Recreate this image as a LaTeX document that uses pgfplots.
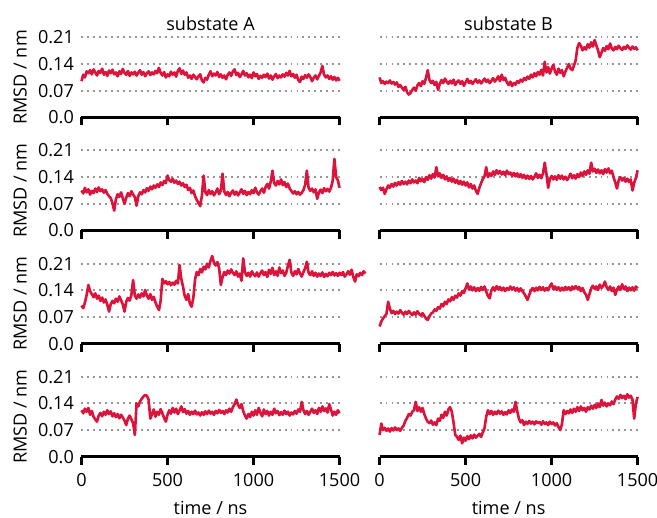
\documentclass[border=0pt]{standalone}
\usepackage{fontspec}
\setmainfont{Open Sans}
\usepackage{pgfplots}
\pgfplotsset{compat=1.18}
\definecolor{rmsd}{RGB}{220,20,60}
\definecolor{gridgray}{RGB}{150,150,150}

\pgfplotsset{
  panel/.style={
    scale only axis, width=185.8pt, height=57.6pt,
    xmin=0, xmax=1500, ymin=0, ymax=0.21,
    clip=false,
    axis x line*=bottom, axis y line*=left,
    axis line style={-},
    x axis line style={line width=1.8pt, black},
    y axis line style={draw=none},
    xtick={0,500,1000,1500}, ytick={0,0.07,0.14,0.21},
    xticklabels={}, yticklabels={},
    tick align=outside, major tick length=5.8pt,
    xtick style={line width=1.8pt, black},
    ytick style={draw=none},
    ymajorgrids,
    grid style={gridgray, line width=1.4pt, dash pattern=on 1.4pt off 2.9pt},
    font=\fontsize{13}{15}\selectfont,
    every axis y label/.style={at={(axis description cs:-0.238,0.5)}, rotate=90, anchor=center},
    every axis x label/.style={at={(axis description cs:0.5,0)}, anchor=base, yshift=-41.3pt},
    every axis title/.style={at={(axis description cs:0.5,1)}, anchor=base, yshift=5.3pt},
    yticklabel style={inner sep=0pt, anchor=east, xshift=0.5pt},
    xticklabel style={inner sep=0pt, anchor=base, yshift=-15.8pt},
  },
  leftcol/.style={yticklabels={0.0,0.07,0.14,0.21}, ylabel={RMSD / nm}},
  bottomrow/.style={xticklabels={0,500,1000,1500}, xlabel={time / ns}},
  trace/.style={rmsd, line width=1.9pt, line join=round, no markers},
}

\begin{document}
\begin{tikzpicture}
\useasboundingbox (-58.68pt,-43.42pt) rectangle (414.36pt,328.82pt);

% row 1, substate A
\begin{axis}[panel, leftcol, title={substate A}, at={(0pt,244.3pt)}, anchor=south west]
\addplot[trace] coordinates {
(0,0.095)(10,0.112)(20,0.105)(30,0.121)(40,0.116)(50,0.124)(60,0.113)(70,0.126)(80,0.118)(90,0.110)
(100,0.122)(110,0.117)(120,0.128)(130,0.112)(140,0.119)(150,0.109)(160,0.123)(170,0.116)(180,0.125)(190,0.113)
(200,0.118)(210,0.108)(220,0.121)(230,0.114)(240,0.127)(250,0.117)(260,0.112)(270,0.122)(280,0.109)(290,0.118)
(300,0.113)(310,0.120)(320,0.110)(330,0.117)(340,0.124)(350,0.112)(360,0.119)(370,0.108)(380,0.116)(390,0.121)
(400,0.111)(410,0.118)(420,0.113)(430,0.122)(440,0.116)(450,0.130)(460,0.117)(470,0.110)(480,0.119)(490,0.105)
(500,0.113)(510,0.108)(520,0.120)(530,0.112)(540,0.118)(550,0.107)(560,0.122)(570,0.129)(580,0.114)(590,0.123)
(600,0.112)(610,0.118)(620,0.104)(630,0.110)(640,0.101)(650,0.112)(660,0.106)(670,0.100)(680,0.108)(690,0.113)
(700,0.097)(710,0.092)(720,0.104)(730,0.099)(740,0.112)(750,0.121)(760,0.108)(770,0.115)(780,0.110)(790,0.119)
(800,0.106)(810,0.113)(820,0.104)(830,0.110)(840,0.100)(850,0.112)(860,0.118)(870,0.109)(880,0.121)(890,0.126)
(900,0.111)(910,0.117)(920,0.106)(930,0.113)(940,0.122)(950,0.110)(960,0.116)(970,0.105)(980,0.112)(990,0.103)
(1000,0.118)(1010,0.108)(1020,0.114)(1030,0.101)(1040,0.109)(1050,0.104)(1060,0.112)(1070,0.106)(1080,0.115)(1090,0.102)
(1100,0.110)(1110,0.099)(1120,0.108)(1130,0.114)(1140,0.103)(1150,0.110)(1160,0.105)(1170,0.113)(1180,0.107)(1190,0.117)
(1200,0.110)(1210,0.122)(1220,0.108)(1230,0.114)(1240,0.104)(1250,0.112)(1260,0.098)(1270,0.093)(1280,0.107)(1290,0.101)
(1300,0.111)(1310,0.104)(1320,0.113)(1330,0.106)(1340,0.095)(1350,0.104)(1360,0.110)(1370,0.100)(1380,0.109)(1390,0.118)
(1400,0.135)(1410,0.112)(1420,0.105)(1430,0.110)(1440,0.101)(1450,0.108)(1460,0.099)(1470,0.106)(1480,0.097)(1490,0.104)
(1500,0.096)};
\end{axis}

% row 1, substate B
\begin{axis}[panel, title={substate B}, at={(214.6pt,244.3pt)}, anchor=south west]
\addplot[trace] coordinates {
(0,0.105)(10,0.090)(20,0.095)(30,0.088)(40,0.094)(50,0.090)(60,0.097)(70,0.089)(80,0.093)(90,0.086)
(100,0.092)(110,0.080)(120,0.085)(130,0.078)(140,0.072)(150,0.080)(160,0.066)(170,0.060)(180,0.064)(190,0.072)
(200,0.078)(210,0.070)(220,0.084)(230,0.090)(240,0.082)(250,0.095)(260,0.088)(270,0.104)(280,0.124)(290,0.098)
(300,0.090)(310,0.096)(320,0.085)(330,0.093)(340,0.072)(350,0.088)(360,0.098)(370,0.090)(380,0.102)(390,0.094)
(400,0.088)(410,0.096)(420,0.089)(430,0.099)(440,0.085)(450,0.093)(460,0.097)(470,0.088)(480,0.095)(490,0.083)
(500,0.092)(510,0.101)(520,0.090)(530,0.096)(540,0.088)(550,0.094)(560,0.100)(570,0.091)(580,0.097)(590,0.089)
(600,0.095)(610,0.102)(620,0.093)(630,0.099)(640,0.090)(650,0.096)(660,0.103)(670,0.094)(680,0.100)(690,0.108)
(700,0.095)(710,0.112)(720,0.098)(730,0.104)(740,0.092)(750,0.085)(760,0.094)(770,0.082)(780,0.090)(790,0.086)
(800,0.095)(810,0.091)(820,0.099)(830,0.094)(840,0.103)(850,0.098)(860,0.107)(870,0.101)(880,0.112)(890,0.105)
(900,0.116)(910,0.108)(920,0.119)(930,0.112)(940,0.125)(950,0.110)(960,0.146)(970,0.118)(980,0.132)(990,0.115)
(1000,0.128)(1010,0.138)(1020,0.120)(1030,0.112)(1040,0.128)(1050,0.117)(1060,0.124)(1070,0.108)(1080,0.120)(1090,0.130)
(1100,0.140)(1110,0.128)(1120,0.124)(1130,0.136)(1140,0.150)(1150,0.183)(1160,0.195)(1170,0.188)(1180,0.176)(1190,0.184)
(1200,0.178)(1210,0.192)(1220,0.183)(1230,0.197)(1240,0.186)(1250,0.203)(1260,0.189)(1270,0.176)(1280,0.158)(1290,0.170)
(1300,0.182)(1310,0.175)(1320,0.187)(1330,0.179)(1340,0.194)(1350,0.181)(1360,0.176)(1370,0.185)(1380,0.179)(1390,0.188)
(1400,0.182)(1410,0.177)(1420,0.185)(1430,0.180)(1440,0.189)(1450,0.183)(1460,0.178)(1470,0.186)(1480,0.180)(1490,0.184)
(1500,0.176)};
\end{axis}

% row 2, substate A
\begin{axis}[panel, leftcol, at={(0pt,162.9pt)}, anchor=south west]
\addplot[trace] coordinates {
(0,0.105)(10,0.097)(20,0.112)(30,0.100)(40,0.108)(50,0.094)(60,0.104)(70,0.098)(80,0.110)(90,0.101)
(100,0.113)(110,0.103)(120,0.108)(130,0.099)(140,0.106)(150,0.096)(160,0.090)(170,0.085)(180,0.072)(190,0.052)
(200,0.082)(210,0.095)(220,0.088)(230,0.100)(240,0.084)(250,0.070)(260,0.086)(270,0.098)(280,0.090)(290,0.103)
(300,0.094)(310,0.088)(320,0.065)(330,0.090)(340,0.100)(350,0.095)(360,0.106)(370,0.100)(380,0.111)(390,0.104)
(400,0.115)(410,0.108)(420,0.118)(430,0.112)(440,0.121)(450,0.114)(460,0.126)(470,0.119)(480,0.130)(490,0.124)
(500,0.144)(510,0.132)(520,0.128)(530,0.136)(540,0.125)(550,0.131)(560,0.122)(570,0.128)(580,0.118)(590,0.124)
(600,0.114)(610,0.120)(620,0.106)(630,0.112)(640,0.098)(650,0.105)(660,0.090)(670,0.080)(680,0.072)(690,0.064)
(700,0.092)(710,0.144)(720,0.100)(730,0.093)(740,0.106)(750,0.096)(760,0.103)(770,0.092)(780,0.100)(790,0.110)
(800,0.095)(810,0.104)(820,0.149)(830,0.102)(840,0.093)(850,0.101)(860,0.090)(870,0.099)(880,0.105)(890,0.094)
(900,0.102)(910,0.092)(920,0.100)(930,0.108)(940,0.096)(950,0.104)(960,0.093)(970,0.101)(980,0.095)(990,0.106)
(1000,0.098)(1010,0.112)(1020,0.100)(1030,0.094)(1040,0.103)(1050,0.110)(1060,0.099)(1070,0.114)(1080,0.122)(1090,0.110)
(1100,0.128)(1110,0.157)(1120,0.124)(1130,0.118)(1140,0.130)(1150,0.121)(1160,0.134)(1170,0.119)(1180,0.127)(1190,0.114)
(1200,0.123)(1210,0.110)(1220,0.104)(1230,0.097)(1240,0.103)(1250,0.095)(1260,0.101)(1270,0.094)(1280,0.099)(1290,0.106)
(1300,0.120)(1310,0.157)(1320,0.112)(1330,0.104)(1340,0.110)(1350,0.100)(1360,0.108)(1370,0.083)(1380,0.100)(1390,0.107)
(1400,0.098)(1410,0.111)(1420,0.103)(1430,0.109)(1440,0.102)(1450,0.112)(1460,0.130)(1470,0.188)(1480,0.140)(1490,0.132)
(1500,0.112)};
\end{axis}

% row 2, substate B
\begin{axis}[panel, at={(214.6pt,162.9pt)}, anchor=south west]
\addplot[trace] coordinates {
(0,0.114)(10,0.106)(20,0.112)(30,0.096)(40,0.108)(50,0.118)(60,0.112)(70,0.122)(80,0.115)(90,0.125)
(100,0.118)(110,0.127)(120,0.120)(130,0.130)(140,0.122)(150,0.128)(160,0.121)(170,0.131)(180,0.124)(190,0.134)
(200,0.126)(210,0.131)(220,0.124)(230,0.138)(240,0.129)(250,0.135)(260,0.127)(270,0.140)(280,0.133)(290,0.145)
(300,0.136)(310,0.148)(320,0.139)(330,0.166)(340,0.142)(350,0.150)(360,0.138)(370,0.146)(380,0.134)(390,0.142)
(400,0.130)(410,0.138)(420,0.128)(430,0.136)(440,0.125)(450,0.133)(460,0.122)(470,0.130)(480,0.120)(490,0.128)
(500,0.118)(510,0.126)(520,0.113)(530,0.122)(540,0.110)(550,0.118)(560,0.104)(570,0.096)(580,0.112)(590,0.124)
(600,0.135)(610,0.142)(620,0.166)(630,0.140)(640,0.150)(650,0.143)(660,0.155)(670,0.146)(680,0.158)(690,0.149)
(700,0.156)(710,0.147)(720,0.154)(730,0.145)(740,0.157)(750,0.148)(760,0.152)(770,0.143)(780,0.151)(790,0.142)
(800,0.150)(810,0.140)(820,0.148)(830,0.138)(840,0.146)(850,0.136)(860,0.144)(870,0.135)(880,0.143)(890,0.134)
(900,0.141)(910,0.150)(920,0.138)(930,0.146)(940,0.137)(950,0.150)(960,0.178)(970,0.148)(980,0.112)(990,0.135)
(1000,0.143)(1010,0.134)(1020,0.142)(1030,0.133)(1040,0.145)(1050,0.136)(1060,0.144)(1070,0.134)(1080,0.141)(1090,0.132)
(1100,0.140)(1110,0.149)(1120,0.137)(1130,0.145)(1140,0.136)(1150,0.148)(1160,0.140)(1170,0.152)(1180,0.143)(1190,0.155)
(1200,0.146)(1210,0.158)(1220,0.149)(1230,0.178)(1240,0.155)(1250,0.162)(1260,0.151)(1270,0.160)(1280,0.150)(1290,0.158)
(1300,0.148)(1310,0.161)(1320,0.152)(1330,0.163)(1340,0.150)(1350,0.157)(1360,0.140)(1370,0.126)(1380,0.110)(1390,0.132)
(1400,0.140)(1410,0.131)(1420,0.138)(1430,0.128)(1440,0.136)(1450,0.127)(1460,0.134)(1470,0.105)(1480,0.125)(1490,0.138)
(1500,0.158)};
\end{axis}

% row 3, substate A
\begin{axis}[panel, leftcol, at={(0pt,81.4pt)}, anchor=south west]
\addplot[trace] coordinates {
(0,0.100)(10,0.093)(20,0.108)(30,0.128)(40,0.154)(50,0.138)(60,0.130)(70,0.122)(80,0.132)(90,0.118)
(100,0.126)(110,0.112)(120,0.121)(130,0.108)(140,0.116)(150,0.102)(160,0.084)(170,0.104)(180,0.112)(190,0.106)
(200,0.118)(210,0.110)(220,0.124)(230,0.114)(240,0.103)(250,0.084)(260,0.110)(270,0.120)(280,0.113)(290,0.128)
(300,0.167)(310,0.126)(320,0.118)(330,0.129)(340,0.121)(350,0.132)(360,0.124)(370,0.141)(380,0.126)(390,0.118)
(400,0.130)(410,0.115)(420,0.123)(430,0.108)(440,0.097)(450,0.088)(460,0.112)(470,0.170)(480,0.158)(490,0.164)
(500,0.156)(510,0.162)(520,0.153)(530,0.160)(540,0.155)(550,0.165)(560,0.158)(570,0.206)(580,0.170)(590,0.150)
(600,0.125)(610,0.115)(620,0.130)(630,0.105)(640,0.097)(650,0.120)(660,0.168)(670,0.188)(680,0.180)(690,0.196)
(700,0.187)(710,0.202)(720,0.195)(730,0.210)(740,0.200)(750,0.218)(760,0.230)(770,0.212)(780,0.205)(790,0.214)
(800,0.198)(810,0.154)(820,0.175)(830,0.188)(840,0.180)(850,0.192)(860,0.184)(870,0.195)(880,0.186)(890,0.180)
(900,0.190)(910,0.176)(920,0.184)(930,0.165)(940,0.224)(950,0.188)(960,0.178)(970,0.186)(980,0.176)(990,0.190)
(1000,0.182)(1010,0.177)(1020,0.187)(1030,0.176)(1040,0.185)(1050,0.192)(1060,0.180)(1070,0.188)(1080,0.175)(1090,0.194)
(1100,0.183)(1110,0.199)(1120,0.180)(1130,0.190)(1140,0.178)(1150,0.200)(1160,0.185)(1170,0.192)(1180,0.178)(1190,0.186)
(1200,0.205)(1210,0.220)(1220,0.186)(1230,0.178)(1240,0.190)(1250,0.182)(1260,0.196)(1270,0.184)(1280,0.176)(1290,0.188)
(1300,0.198)(1310,0.215)(1320,0.186)(1330,0.180)(1340,0.190)(1350,0.178)(1360,0.186)(1370,0.176)(1380,0.184)(1390,0.178)
(1400,0.187)(1410,0.175)(1420,0.183)(1430,0.177)(1440,0.186)(1450,0.180)(1460,0.188)(1470,0.179)(1480,0.185)(1490,0.178)
(1500,0.186)(1510,0.180)(1520,0.188)(1530,0.176)(1540,0.182)(1550,0.190)(1560,0.181)(1570,0.194)(1580,0.175)(1590,0.163)
(1600,0.182)(1610,0.177)(1620,0.186)(1630,0.180)(1640,0.190)(1650,0.184)};
\end{axis}

% row 3, substate B
\begin{axis}[panel, at={(214.6pt,81.4pt)}, anchor=south west]
\addplot[trace] coordinates {
(0,0.045)(10,0.058)(20,0.066)(30,0.072)(40,0.078)(50,0.110)(60,0.092)(70,0.080)(80,0.086)(90,0.078)
(100,0.084)(110,0.079)(120,0.088)(130,0.081)(140,0.076)(150,0.084)(160,0.078)(170,0.086)(180,0.080)(190,0.075)
(200,0.082)(210,0.076)(220,0.085)(230,0.078)(240,0.074)(250,0.080)(260,0.073)(270,0.066)(280,0.062)(290,0.072)
(300,0.079)(310,0.082)(320,0.090)(330,0.086)(340,0.096)(350,0.092)(360,0.104)(370,0.098)(380,0.110)(390,0.104)
(400,0.116)(410,0.111)(420,0.122)(430,0.115)(440,0.126)(450,0.121)(460,0.132)(470,0.126)(480,0.138)(490,0.133)
(500,0.145)(510,0.158)(520,0.142)(530,0.150)(540,0.140)(550,0.148)(560,0.138)(570,0.146)(580,0.139)(590,0.149)
(600,0.141)(610,0.150)(620,0.137)(630,0.125)(640,0.119)(650,0.140)(660,0.148)(670,0.139)(680,0.151)(690,0.142)
(700,0.149)(710,0.140)(720,0.147)(730,0.138)(740,0.146)(750,0.141)(760,0.150)(770,0.142)(780,0.148)(790,0.139)
(800,0.146)(810,0.137)(820,0.145)(830,0.138)(840,0.132)(850,0.124)(860,0.115)(870,0.128)(880,0.140)(890,0.146)
(900,0.138)(910,0.147)(920,0.140)(930,0.149)(940,0.141)(950,0.148)(960,0.139)(970,0.146)(980,0.140)(990,0.151)
(1000,0.158)(1010,0.143)(1020,0.150)(1030,0.141)(1040,0.148)(1050,0.139)(1060,0.147)(1070,0.140)(1080,0.149)(1090,0.142)
(1100,0.148)(1110,0.140)(1120,0.150)(1130,0.143)(1140,0.151)(1150,0.144)(1160,0.149)(1170,0.138)(1180,0.146)(1190,0.135)
(1200,0.128)(1210,0.115)(1220,0.130)(1230,0.145)(1240,0.152)(1250,0.144)(1260,0.150)(1270,0.141)(1280,0.155)(1290,0.146)
(1300,0.152)(1310,0.163)(1320,0.148)(1330,0.141)(1340,0.150)(1350,0.138)(1360,0.147)(1370,0.128)(1380,0.142)(1390,0.150)
(1400,0.141)(1410,0.156)(1420,0.143)(1430,0.150)(1440,0.138)(1450,0.147)(1460,0.140)(1470,0.148)(1480,0.139)(1490,0.150)
(1500,0.145)};
\end{axis}

% row 4, substate A
\begin{axis}[panel, leftcol, bottomrow, at={(0pt,0pt)}, anchor=south west]
\addplot[trace] coordinates {
(0,0.122)(10,0.114)(20,0.126)(30,0.118)(40,0.128)(50,0.110)(60,0.120)(70,0.105)(80,0.098)(90,0.092)
(100,0.108)(110,0.115)(120,0.106)(130,0.118)(140,0.110)(150,0.122)(160,0.112)(170,0.119)(180,0.106)(190,0.114)
(200,0.104)(210,0.112)(220,0.101)(230,0.110)(240,0.103)(250,0.095)(260,0.083)(270,0.100)(280,0.108)(290,0.098)
(300,0.088)(310,0.057)(320,0.140)(330,0.132)(340,0.145)(350,0.152)(360,0.158)(370,0.162)(380,0.160)(390,0.150)
(400,0.100)(410,0.112)(420,0.124)(430,0.105)(440,0.118)(450,0.110)(460,0.125)(470,0.114)(480,0.102)(490,0.092)
(500,0.110)(510,0.122)(520,0.113)(530,0.128)(540,0.116)(550,0.126)(560,0.112)(570,0.121)(580,0.132)(590,0.117)
(600,0.125)(610,0.113)(620,0.120)(630,0.110)(640,0.118)(650,0.112)(660,0.121)(670,0.111)(680,0.116)(690,0.108)
(700,0.117)(710,0.110)(720,0.119)(730,0.112)(740,0.121)(750,0.113)(760,0.118)(770,0.110)(780,0.120)(790,0.114)
(800,0.123)(810,0.115)(820,0.120)(830,0.112)(840,0.122)(850,0.116)(860,0.126)(870,0.118)(880,0.130)(890,0.138)
(900,0.150)(910,0.136)(920,0.128)(930,0.138)(940,0.120)(950,0.108)(960,0.100)(970,0.112)(980,0.104)(990,0.118)
(1000,0.108)(1010,0.122)(1020,0.110)(1030,0.128)(1040,0.115)(1050,0.106)(1060,0.124)(1070,0.112)(1080,0.120)(1090,0.108)
(1100,0.118)(1110,0.110)(1120,0.126)(1130,0.114)(1140,0.120)(1150,0.109)(1160,0.117)(1170,0.110)(1180,0.121)(1190,0.112)
(1200,0.118)(1210,0.108)(1220,0.116)(1230,0.111)(1240,0.120)(1250,0.113)(1260,0.124)(1270,0.118)(1280,0.144)(1290,0.122)
(1300,0.112)(1310,0.120)(1320,0.110)(1330,0.118)(1340,0.126)(1350,0.115)(1360,0.122)(1370,0.112)(1380,0.128)(1390,0.118)
(1400,0.132)(1410,0.120)(1420,0.127)(1430,0.116)(1440,0.138)(1450,0.124)(1460,0.108)(1470,0.118)(1480,0.110)(1490,0.122)
(1500,0.114)};
\end{axis}

% row 4, substate B
\begin{axis}[panel, bottomrow, at={(214.6pt,0pt)}, anchor=south west]
\addplot[trace] coordinates {
(0,0.057)(10,0.087)(20,0.070)(30,0.076)(40,0.068)(50,0.074)(60,0.066)(70,0.075)(80,0.069)(90,0.077)
(100,0.070)(110,0.074)(120,0.068)(130,0.076)(140,0.082)(150,0.094)(160,0.102)(170,0.112)(180,0.108)(190,0.118)
(200,0.122)(210,0.144)(220,0.120)(230,0.130)(240,0.118)(250,0.128)(260,0.112)(270,0.100)(280,0.092)(290,0.088)
(300,0.095)(310,0.084)(320,0.090)(330,0.083)(340,0.100)(350,0.094)(360,0.110)(370,0.102)(380,0.118)(390,0.108)
(400,0.124)(410,0.130)(420,0.118)(430,0.090)(440,0.057)(450,0.052)(460,0.044)(470,0.055)(480,0.035)(490,0.050)
(500,0.042)(510,0.054)(520,0.046)(530,0.056)(540,0.048)(550,0.058)(560,0.050)(570,0.055)(580,0.060)(590,0.052)
(600,0.064)(610,0.075)(620,0.105)(630,0.122)(640,0.112)(650,0.120)(660,0.110)(670,0.118)(680,0.112)(690,0.121)
(700,0.113)(710,0.119)(720,0.110)(730,0.117)(740,0.111)(750,0.122)(760,0.115)(770,0.124)(780,0.118)(790,0.144)
(800,0.120)(810,0.100)(820,0.090)(830,0.096)(840,0.083)(850,0.092)(860,0.086)(870,0.094)(880,0.087)(890,0.092)
(900,0.085)(910,0.093)(920,0.088)(930,0.091)(940,0.084)(950,0.093)(960,0.086)(970,0.090)(980,0.083)(990,0.092)
(1000,0.086)(1010,0.090)(1020,0.082)(1030,0.088)(1040,0.078)(1050,0.070)(1060,0.085)(1070,0.122)(1080,0.112)(1090,0.120)
(1100,0.114)(1110,0.124)(1120,0.115)(1130,0.126)(1140,0.118)(1150,0.130)(1160,0.120)(1170,0.132)(1180,0.122)(1190,0.128)
(1200,0.118)(1210,0.130)(1220,0.124)(1230,0.134)(1240,0.126)(1250,0.136)(1260,0.128)(1270,0.140)(1280,0.130)(1290,0.149)
(1300,0.134)(1310,0.142)(1320,0.132)(1330,0.140)(1340,0.135)(1350,0.145)(1360,0.138)(1370,0.150)(1380,0.158)(1390,0.152)
(1400,0.162)(1410,0.154)(1420,0.160)(1430,0.151)(1440,0.164)(1450,0.155)(1460,0.160)(1470,0.150)(1480,0.100)(1490,0.140)
(1500,0.157)};
\end{axis}
\end{tikzpicture}
\end{document}
